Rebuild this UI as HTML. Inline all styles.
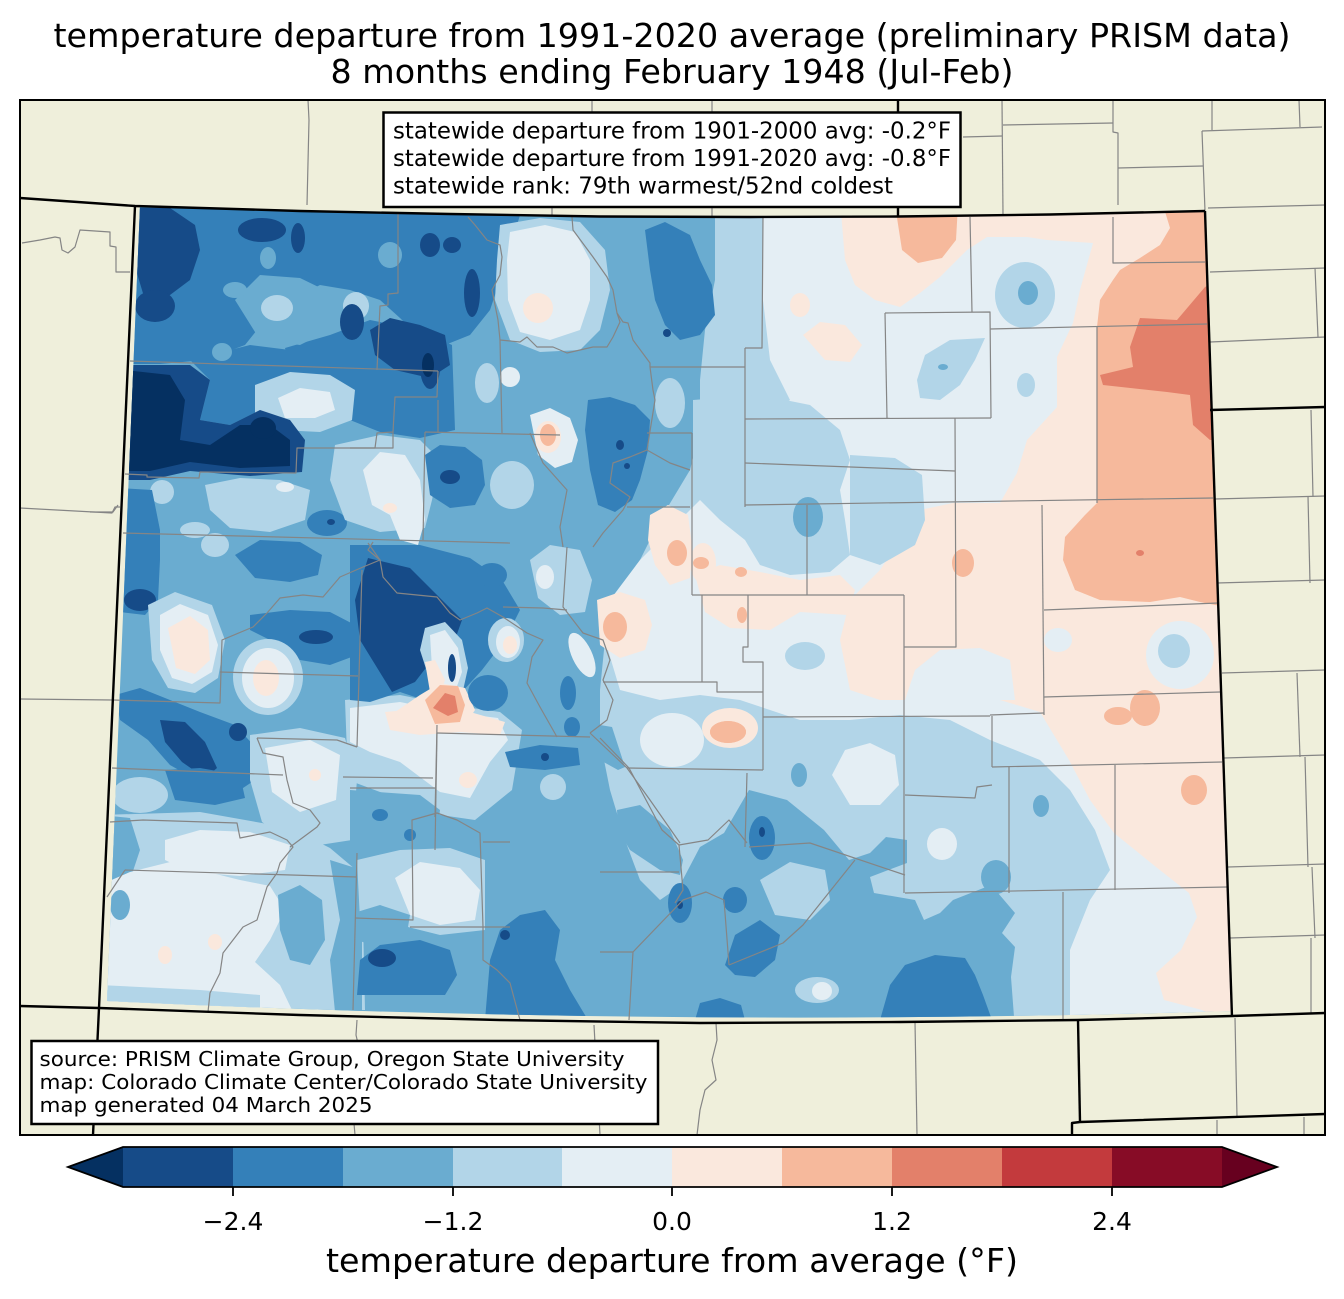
<!DOCTYPE html>
<html><head><meta charset="utf-8"><style>
html,body{margin:0;padding:0;background:#fff;}
svg{display:block;}
text{font-family:"DejaVu Sans","Liberation Sans",sans-serif;fill:#000;}
.k0{fill:#053061}.k1{fill:#164b88}.k2{fill:#3480b9}.k3{fill:#6aacd0}.k4{fill:#b2d5e8}.k5{fill:#e4eef4}.k6{fill:#fae8dd}.k7{fill:#f6b99c}.k8{fill:#e3806a}.k9{fill:#c33a3d}.k10{fill:#870c26}.k11{fill:#67001f}
</style></head><body>
<svg width="1344" height="1299" viewBox="0 0 1344 1299" xmlns="http://www.w3.org/2000/svg">
<defs>
<clipPath id="co"><path d="M140,206 Q668,225 1205,212 L1232,1011 Q670,1028 107,1001 Z"/></clipPath>
<clipPath id="fr"><rect x="20" y="100" width="1305" height="1035"/></clipPath>
</defs>
<rect x="0" y="0" width="1344" height="1299" fill="#fff"/>
<rect x="20" y="100" width="1305" height="1035" fill="#efefdb"/>

<g clip-path="url(#co)">
<rect x="90" y="190" width="1160" height="850" class="k3"/>
<!-- east zones -->
<polygon class="k4" points="715,200 1240,200 1240,1030 1015,1030 1011,977 1015,947 1002,933 1015,913 998,893 986,887 953,900 940,913 924,920 915,900 874,893 870,877 907,863 907,840 886,837 870,853 849,860 824,830 787,800 749,790 724,833 700,847 679,887 660,900 640,880 625,840 610,790 600,740 600,690 605,640 620,600 640,560 660,520 690,470 700,430 700,380 705,330 715,280"/>
<polygon class="k5" points="763,200 1240,200 1240,1030 1070,1030 1070,950 1090,900 1110,870 1095,830 1070,790 1040,760 990,740 950,720 900,715 850,720 800,720 770,710 740,700 700,695 660,700 620,690 605,640 610,600 640,560 670,530 700,500 720,470 740,440 760,420 790,400 770,360 763,300"/>
<polygon class="k6" points="840,200 1240,200 1240,1030 1202,1010 1164,1000 1156,973 1181,950 1197,917 1189,893 1156,867 1114,833 1090,800 1069,760 1040,712 1000,700 960,700 920,700 880,700 850,690 840,640 850,600 880,570 900,540 920,510 953,503 1000,503 1017,473 1027,440 1057,407 1057,357 1073,323 1080,290 1093,243 1047,240 1027,237 987,237 967,250 940,277 920,293 900,307 875,300 855,285 845,260"/>
<polygon class="k7" points="895,205 958,205 956,240 942,258 918,263 902,250"/>
<polygon class="k7" points="1163,205 1240,205 1240,610 1200,602 1180,597 1150,602 1100,600 1075,590 1063,560 1065,537 1085,515 1097,503 1097,450 1097,400 1097,327 1100,300 1113,280 1120,270 1140,258 1160,245 1170,228"/>
<polygon class="k8" points="1220,280 1205,287 1177,320 1140,318 1130,347 1133,367 1100,375 1103,385 1167,392 1190,395 1193,425 1210,440 1220,440"/>
<ellipse class="k8" cx="1140" cy="553" rx="4" ry="3"/>
<ellipse class="k7" cx="963" cy="563" rx="11" ry="14"/>
<ellipse class="k6" cx="730" cy="728" rx="28" ry="20"/>
<ellipse class="k7" cx="1145" cy="708" rx="15" ry="18"/>
<ellipse class="k7" cx="1118" cy="716" rx="14" ry="9"/>
<ellipse class="k7" cx="1194" cy="790" rx="13" ry="15"/>
<ellipse class="k7" cx="728" cy="732" rx="18" ry="11"/>
<!-- central pink patches -->
<polygon class="k6" points="650,515 668,505 688,515 692,545 690,578 670,585 655,565 648,540"/>
<polygon class="k6" points="597,600 620,592 645,600 652,625 645,650 620,658 600,645"/>
<polygon class="k6" points="803,335 820,322 845,325 862,345 850,362 825,360"/>
<ellipse class="k6" cx="800" cy="305" rx="10" ry="12"/>
<!-- east holes -->
<polygon class="k4" points="693,400 760,395 810,405 840,430 850,460 840,490 845,520 850,555 830,572 790,575 760,565 745,540 720,520 700,500 693,460"/>
<polygon class="k4" points="850,455 895,458 922,475 925,520 915,545 880,565 850,555"/>
<polygon class="k6" points="695,575 720,565 760,572 800,580 840,575 855,590 848,615 800,612 770,630 730,628 705,612"/>
<ellipse class="k6" cx="703" cy="563" rx="13" ry="20"/>
<ellipse class="k7" cx="677" cy="553" rx="10" ry="13"/>
<ellipse class="k7" cx="701" cy="563" rx="8" ry="6"/>
<ellipse class="k7" cx="741" cy="572" rx="6" ry="5"/>
<ellipse class="k7" cx="742" cy="615" rx="5" ry="8"/>
<ellipse class="k7" cx="615" cy="627" rx="12" ry="15"/>
<ellipse class="k3" cx="808" cy="517" rx="15" ry="20"/>
<ellipse class="k4" cx="1025" cy="295" rx="30" ry="33"/>
<ellipse class="k3" cx="1028" cy="293" rx="10" ry="12"/>
<polygon class="k4" points="917,380 925,355 950,340 985,338 975,360 960,385 940,400 920,398"/>
<ellipse class="k3" cx="943" cy="367" rx="5" ry="3"/>
<ellipse class="k4" cx="1026" cy="385" rx="9" ry="12"/>
<ellipse class="k4" cx="805" cy="656" rx="20" ry="14"/>
<ellipse class="k5" cx="1180" cy="655" rx="34" ry="34"/>
<ellipse class="k4" cx="1174" cy="651" rx="16" ry="17"/>
<ellipse class="k5" cx="1058" cy="640" rx="14" ry="12"/>
<polygon class="k5" points="905,700 915,670 940,650 980,648 1010,660 1015,700"/>
<!-- south east C3/C5 holes -->
<ellipse class="k3" cx="1041" cy="806" rx="8" ry="11"/>
<ellipse class="k3" cx="996" cy="877" rx="15" ry="17"/>
<ellipse class="k3" cx="799" cy="775" rx="8" ry="12"/>
<ellipse class="k5" cx="672" cy="740" rx="32" ry="27"/>
<polygon class="k5" points="832,775 845,750 870,743 895,755 899,785 880,805 850,805"/>
<ellipse class="k5" cx="942" cy="844" rx="15" ry="16"/>
<ellipse class="k7" cx="728" cy="732" rx="18" ry="11"/>
<polygon class="k4" points="760,880 790,862 825,870 830,900 810,920 775,915"/>
<ellipse class="k4" cx="817" cy="990" rx="22" ry="13"/>
<ellipse class="k5" cx="822" cy="991" rx="10" ry="9"/>
<polygon class="k3" points="600,725 612,727 625,767 618,770 600,760"/>
<polygon class="k3" points="617,810 640,805 670,830 683,860 680,875 660,870 630,850 618,830"/>
<!-- south C2 -->
<polygon class="k2" points="880,1020 890,985 905,965 935,955 965,958 975,975 983,995 992,1020"/>
<polygon class="k2" points="725,965 735,935 760,920 780,935 775,960 755,977 735,975"/>
<ellipse class="k2" cx="680" cy="903" rx="12" ry="20"/>
<ellipse class="k1" cx="680" cy="905" rx="3" ry="4"/>
<ellipse class="k2" cx="735" cy="900" rx="12" ry="13"/>
<ellipse class="k2" cx="762" cy="838" rx="13" ry="22"/>
<ellipse class="k1" cx="762" cy="832" rx="3" ry="5"/>
<polygon class="k2" points="695,1020 700,1003 720,998 741,1005 745,1020"/>
<polygon class="k2" points="485,1020 490,960 500,930 520,915 545,910 560,930 555,960 570,990 588,1020"/>
<ellipse class="k1" cx="505" cy="935" rx="5" ry="5"/>
<!-- NW -->
<polygon class="k2" points="125,200 525,200 512,240 500,280 490,310 470,335 445,345 420,338 400,318 380,300 350,290 320,285 290,300 265,320 245,345 205,360 160,364 125,364"/>
<polygon class="k2" points="285,348 330,335 370,320 420,330 452,345 455,430 420,438 380,432 350,420 300,402"/>
<polygon class="k2" points="190,360 250,345 290,350 300,400 290,420 260,410 230,425 200,420 210,380"/>
<polygon class="k3" points="235,300 260,275 300,278 335,295 330,330 300,345 260,340"/>
<ellipse class="k4" cx="277" cy="308" rx="16" ry="13"/>
<ellipse class="k4" cx="356" cy="306" rx="13" ry="14"/>
<ellipse class="k3" cx="390" cy="255" rx="12" ry="13"/>
<ellipse class="k3" cx="268" cy="258" rx="8" ry="11"/>
<ellipse class="k3" cx="222" cy="352" rx="10" ry="9"/>
<ellipse class="k3" cx="163" cy="230" rx="8" ry="4"/>
<ellipse class="k3" cx="235" cy="290" rx="12" ry="8"/>
<polygon class="k1" points="138,208 170,208 195,225 200,250 190,280 170,295 145,300 136,270"/>
<ellipse class="k1" cx="262" cy="230" rx="24" ry="12"/>
<ellipse class="k1" cx="298" cy="238" rx="7" ry="15"/>
<ellipse class="k1" cx="155" cy="306" rx="20" ry="16"/>
<polygon class="k1" points="370,330 390,318 420,325 445,335 450,365 430,378 395,370 375,355"/>
<ellipse class="k1" cx="352" cy="322" rx="12" ry="18"/>
<ellipse class="k1" cx="430" cy="245" rx="10" ry="12"/>
<ellipse class="k1" cx="452" cy="245" rx="9" ry="8"/>
<ellipse class="k1" cx="472" cy="293" rx="8" ry="24"/>
<ellipse class="k1" cx="430" cy="367" rx="10" ry="22"/>
<ellipse class="k0" cx="428" cy="365" rx="6" ry="12"/>
<polygon class="k4" points="255,385 290,372 330,375 355,390 352,420 320,432 280,430 255,415"/>
<polygon class="k5" points="278,398 300,388 330,392 335,410 315,418 285,418"/>
<polygon class="k1" points="125,365 190,365 210,380 200,420 230,425 260,410 290,420 305,440 302,472 250,476 190,471 150,480 125,480"/>
<polygon class="k0" points="125,370 170,375 185,400 180,440 210,445 240,425 270,425 290,440 290,466 240,468 190,462 150,471 125,471"/>
<ellipse class="k0" cx="263" cy="428" rx="13" ry="11"/>
<!-- north middle -->
<polygon class="k4" points="500,225 540,218 580,222 605,250 610,290 600,330 580,350 540,352 510,340 495,300 497,260"/>
<polygon class="k5" points="510,232 545,225 575,232 590,260 590,300 580,330 550,340 520,332 508,300 507,260"/>
<ellipse class="k6" cx="538" cy="308" rx="15" ry="15"/>
<polygon class="k2" points="645,230 665,222 690,235 700,260 712,285 715,315 700,335 680,340 665,325 655,300 650,270"/>
<ellipse class="k1" cx="667" cy="333" rx="4" ry="4"/>
<ellipse class="k4" cx="670" cy="403" rx="15" ry="25"/>
<!-- row y 480-540 west -->
<ellipse class="k4" cx="162" cy="492" rx="12" ry="12"/>
<polygon class="k4" points="205,485 240,478 280,480 310,490 305,520 270,532 230,528 210,510"/>
<ellipse class="k5" cx="285" cy="487" rx="9" ry="5"/>
<ellipse class="k4" cx="195" cy="530" rx="15" ry="8"/>
<ellipse class="k4" cx="215" cy="545" rx="14" ry="12"/>
<ellipse class="k2" cx="327" cy="523" rx="20" ry="13"/>
<ellipse class="k1" cx="331" cy="522" rx="4" ry="3"/>
<polygon class="k2" points="120,488 152,490 160,530 160,560 158,600 145,615 120,612"/>
<ellipse class="k1" cx="140" cy="600" rx="16" ry="11"/>
<!-- central north -->
<polygon class="k4" points="335,445 380,435 420,440 440,460 432,500 425,528 380,532 345,520 330,480"/>
<polygon class="k5" points="363,470 380,452 405,455 420,480 425,520 418,545 400,540 390,515 372,505"/>
<ellipse class="k6" cx="390" cy="508" rx="7" ry="5"/>
<polygon class="k2" points="425,455 440,445 465,447 482,460 485,485 475,505 450,508 430,495"/>
<ellipse class="k1" cx="450" cy="477" rx="10" ry="7"/>
<ellipse class="k4" cx="487" cy="383" rx="12" ry="20"/>
<ellipse class="k5" cx="510" cy="377" rx="10" ry="10"/>
<polygon class="k2" points="588,400 610,397 635,405 650,420 648,450 640,480 632,500 615,512 598,505 590,470 585,430"/>
<ellipse class="k1" cx="620" cy="445" rx="4" ry="5"/>
<ellipse class="k1" cx="627" cy="466" rx="3" ry="3"/>
<polygon class="k5" points="530,415 550,408 570,418 578,440 572,462 555,468 538,455"/>
<ellipse class="k6" cx="548" cy="437" rx="13" ry="16"/>
<ellipse class="k7" cx="548" cy="435" rx="8" ry="11"/>
<ellipse class="k4" cx="512" cy="485" rx="22" ry="24"/>
<!-- west central -->
<polygon class="k2" points="235,555 260,540 300,542 322,555 318,575 290,582 255,578"/>
<polygon class="k2" points="250,615 290,610 330,612 355,625 357,655 330,665 300,660 270,640 250,630"/>
<ellipse class="k1" cx="316" cy="637" rx="17" ry="7"/>
<polygon class="k4" points="148,605 175,592 212,605 225,640 218,678 195,693 168,688 152,660"/>
<polygon class="k5" points="160,615 180,604 208,615 218,645 212,672 192,684 172,678 160,650"/>
<polygon class="k6" points="168,628 190,616 208,630 210,660 195,674 176,668"/>
<ellipse class="k4" cx="268" cy="677" rx="35" ry="38"/>
<ellipse class="k5" cx="268" cy="678" rx="26" ry="30"/>
<ellipse class="k6" cx="266" cy="678" rx="13" ry="18"/>
<polygon class="k2" points="115,695 140,688 170,700 200,712 235,725 258,750 255,780 240,790 200,782 170,765 148,740 120,720"/>
<polygon class="k1" points="160,720 185,722 205,742 217,768 205,778 182,762 165,742"/>
<ellipse class="k1" cx="238" cy="732" rx="9" ry="9"/>
<polygon class="k2" points="165,770 200,768 240,775 245,798 215,805 175,800"/>
<ellipse class="k4" cx="140" cy="795" rx="28" ry="18"/>
<polygon class="k4" points="250,735 300,728 345,738 357,780 352,840 300,848 262,822 250,780"/>
<polygon class="k5" points="265,748 310,740 340,755 336,800 300,812 272,792"/>
<ellipse class="k6" cx="315" cy="775" rx="6" ry="6"/>
<!-- SW -->
<polygon class="k4" points="100,815 200,812 290,828 330,848 362,875 365,1010 100,1010"/>
<polygon class="k3" points="100,815 130,818 140,850 130,880 100,885"/>
<polygon class="k5" points="165,840 200,830 250,832 290,845 285,870 240,876 190,872 165,860"/>
<polygon class="k5" points="100,885 130,872 170,862 200,870 240,880 270,886 285,910 270,940 255,962 280,985 292,1010 100,1010"/>
<polygon class="k4" points="100,985 200,990 260,995 260,1012 100,1012"/>
<polygon class="k3" points="278,895 300,885 322,900 325,940 310,965 290,960 280,930"/>
<polygon class="k3" points="330,860 362,870 362,1012 335,1012 330,960 340,920"/>
<ellipse class="k6" cx="165" cy="955" rx="7" ry="9"/>
<ellipse class="k6" cx="215" cy="942" rx="7" ry="8"/>
<ellipse class="k3" cx="120" cy="905" rx="10" ry="15"/>
<!-- central south light -->
<polygon class="k4" points="345,700 400,695 450,705 500,712 522,730 512,790 475,820 420,812 380,792 348,780"/>
<polygon class="k5" points="350,708 400,702 450,712 498,718 508,740 490,762 470,798 440,792 400,762 370,752 350,742"/>
<polygon class="k6" points="385,712 430,708 470,712 505,722 500,735 460,732 420,735 390,730"/>
<ellipse class="k6" cx="468" cy="780" rx="9" ry="8"/>
<polygon class="k3" points="350,790 420,795 440,810 435,850 400,855 350,855"/>
<ellipse class="k2" cx="380" cy="815" rx="8" ry="6"/>
<ellipse class="k2" cx="410" cy="835" rx="6" ry="6"/>
<polygon class="k4" points="357,860 400,850 450,848 485,860 485,930 440,935 400,925 360,920"/>
<polygon class="k5" points="395,878 420,862 460,868 480,890 475,920 440,925 410,915"/>
<polygon class="k3" points="357,912 380,905 410,915 405,945 380,948 357,940"/>
<polygon class="k2" points="357,995 360,960 380,945 420,940 450,950 457,975 445,995"/>
<ellipse class="k1" cx="382" cy="958" rx="14" ry="9"/>
<polygon class="k2" points="505,752 540,745 578,748 580,765 545,770 510,767"/>
<ellipse class="k1" cx="545" cy="757" rx="4" ry="4"/>
<ellipse class="k4" cx="553" cy="787" rx="13" ry="13"/>
<!-- central dark -->
<polygon class="k2" points="350,545 420,545 470,558 502,580 520,610 505,640 482,670 462,692 430,702 400,692 370,702 350,700"/>
<polygon class="k1" points="368,558 410,568 440,598 462,620 452,648 432,660 415,682 392,692 376,666 360,640 355,600"/>
<polygon class="k4" points="425,628 445,622 462,640 468,668 462,695 440,700 428,675 420,650"/>
<polygon class="k5" points="430,635 445,630 458,648 462,672 455,692 442,694 432,668"/>
<polygon class="k6" points="425,662 435,660 445,680 440,695 430,692"/>
<ellipse class="k1" cx="452" cy="668" rx="4" ry="14"/>
<polygon class="k6" points="395,712 420,695 440,683 465,688 475,710 462,730 430,733 400,728"/>
<polygon class="k7" points="425,700 440,685 458,686 465,705 460,722 435,724"/>
<polygon class="k8" points="433,708 445,693 455,696 458,712 448,716"/>
<ellipse class="k4" cx="506" cy="640" rx="18" ry="22"/>
<ellipse class="k5" cx="508" cy="642" rx="12" ry="16"/>
<ellipse class="k6" cx="510" cy="645" rx="7" ry="9"/>
<ellipse class="k2" cx="488" cy="693" rx="20" ry="18"/>
<ellipse class="k2" cx="492" cy="575" rx="15" ry="12"/>
<polygon class="k4" points="530,560 550,545 580,550 592,580 585,612 560,615 538,598"/>
<ellipse class="k5" cx="545" cy="577" rx="9" ry="12"/>
<ellipse class="k5" cx="582" cy="655" rx="10" ry="24" transform="rotate(-25 582 655)"/>
<ellipse class="k2" cx="568" cy="693" rx="8" ry="17"/>
<ellipse class="k2" cx="572" cy="727" rx="8" ry="10"/>
</g>

<!-- county lines -->
<g clip-path="url(#fr)" fill="none" stroke="#858585" stroke-width="1.2" stroke-linejoin="round">
<polyline points="308,100 309,120 307,205"/>
<polyline points="592,100 592,112"/>
<polyline points="552,207 552,215"/>
<polyline points="712,100 712,216"/>
<polyline points="1002,100 1003,215"/>
<polyline points="1003,125 1113,123"/>
<polyline points="963,137 1002,136"/>
<polyline points="1113,100 1113,132 1118,133 1118,205"/>
<polyline points="1118,168 1203,166"/>
<polyline points="1212,100 1212,130"/>
<polyline points="1202,131 1322,127"/>
<polyline points="1202,131 1205,211"/>
<polyline points="1299,100 1300,127"/>
<polyline points="1208,208 1325,205"/>
<polyline points="1210,272 1325,268"/>
<polyline points="1315,268 1318,337"/>
<polyline points="1210,342 1325,337"/>
<polyline points="1311,410 1313,497"/>
<polyline points="1215,499 1325,496"/>
<polyline points="1217,583 1325,580"/>
<polyline points="1308,496 1310,583"/>
<polyline points="1222,673 1325,670"/>
<polyline points="1297,673 1300,757"/>
<polyline points="1224,758 1325,755"/>
<polyline points="1305,757 1308,867"/>
<polyline points="1228,867 1325,864"/>
<polyline points="1312,867 1315,938"/>
<polyline points="1230,938 1325,935"/>
<polyline points="1311,938 1311,1013"/>
<polyline points="1235,1018 1237,1117"/>
<polyline points="1217,1120 1217,1135"/>
<polyline points="1304,1117 1304,1135"/>
<polyline points="22,243 40,240 55,237 60,238 62,250 68,253 75,247 80,230 110,232 110,246 116,247 116,272 130,272"/>
<polyline points="20,508 112,513 115,507 120,507"/>
<polyline points="20,699 113,700"/>
<polyline points="357,1020 356,1035 359,1048 354,1062 357,1080 352,1100 355,1135"/>
<polyline points="594,1025 600,1135"/>
<polyline points="716,1023 717,1040 712,1060 716,1080 705,1090 700,1110 697,1135"/>
<polyline points="915,1022 917,1135"/>
<!-- CO counties -->
<polyline points="398,213 398,293 388,294 388,305 380,306 377,370"/>
<polyline points="130,361 438,371"/>
<polyline points="438,371 437,397 395,397 393,432 377,433 375,448 297,448 296,473 200,472 199,478 147,477 147,475 125,474"/>
<polyline points="393,432 393,448 350,448"/>
<polyline points="425,432 423,540"/>
<polyline points="123,533 510,543"/>
<polyline points="468,217 475,225 487,240 500,245 502,257 500,275 492,290 498,320 500,340"/>
<polyline points="500,340 520,342 527,337 537,347 553,347 567,353 593,347 607,347 613,337 620,322 617,313"/>
<polyline points="500,340 502,433"/>
<polyline points="572,217 573,230 593,257 607,277 613,290 617,313 623,322 628,323 633,340 650,363 650,367"/>
<polyline points="650,367 745,367"/>
<polyline points="745,348 762,348 763,217"/>
<polyline points="745,348 745,507"/>
<polyline points="650,367 653,390 655,400 647,450 630,457 613,463 610,483 630,497 623,510 603,533 593,547"/>
<polyline points="885,313 990,312 991,418"/>
<polyline points="885,313 887,418"/>
<polyline points="745,419 991,418"/>
<polyline points="970,217 972,312"/>
<polyline points="1113,217 1113,263 1205,262"/>
<polyline points="990,329 1207,324"/>
<polyline points="1097,327 1097,503"/>
<polyline points="745,463 955,471"/>
<polyline points="955,418 956,647 904,647"/>
<polyline points="745,505 1213,498"/>
<polyline points="1042,505 1044,715"/>
<polyline points="1044,610 1218,603"/>
<polyline points="1044,697 1220,692"/>
<polyline points="990,715 1044,713"/>
<polyline points="992,716 992,767"/>
<polyline points="992,767 1222,762"/>
<polyline points="692,595 904,595"/>
<polyline points="904,595 904,893"/>
<polyline points="1009,767 1009,893"/>
<polyline points="1115,765 1115,890"/>
<polyline points="905,893 1227,887"/>
<polyline points="1063,892 1063,1020"/>
<polyline points="905,795 975,798 977,787 992,785"/>
<polyline points="692,433 692,595"/>
<polyline points="647,433 692,433"/>
<polyline points="647,450 670,463 690,470"/>
<polyline points="627,507 690,507"/>
<polyline points="807,505 807,595"/>
<polyline points="702,595 702,682"/>
<polyline points="603,682 717,682 717,692 763,692"/>
<polyline points="763,692 763,770"/>
<polyline points="627,768 763,770"/>
<polyline points="763,717 990,716"/>
<polyline points="748,595 748,647 743,647 743,662 763,662 763,692"/>
<polyline points="749,847 810,843 905,875"/>
<polyline points="855,860 803,925 783,943 729,965"/>
<polyline points="729,965 724,900 706,892 683,900 633,952 629,1020"/>
<polyline points="600,738 629,768 662,830 679,845 683,890 675,903"/>
<polyline points="679,845 708,840 729,820 747,843"/>
<polyline points="600,872 679,872"/>
<polyline points="600,952 633,952"/>
<polyline points="747,773 745,847"/>
<polyline points="438,400 438,432"/>
<polyline points="425,432 560,435"/>
<polyline points="530,433 543,463 567,490 560,527 563,547"/>
<polyline points="368,543 380,560 383,577 397,593 437,597 450,613 460,620 477,613 487,608 503,617 527,633 543,640 532,657 527,683 540,707 557,737"/>
<polyline points="503,607 543,608 567,610"/>
<polyline points="567,547 563,607 583,633 603,640 610,660 603,680 613,700 607,720 590,733"/>
<polyline points="437,733 590,737"/>
<polyline points="437,733 435,850"/>
<polyline points="590,733 627,768 650,800 680,843"/>
<polyline points="350,788 435,788"/>
<polyline points="90,512 113,512 118,505"/>
<polyline points="373,542 368,550 380,560 363,567 340,577 323,597 303,595 280,598 267,613 253,627 222,640 220,703 113,700"/>
<polyline points="220,672 358,676"/>
<polyline points="362,570 357,747"/>
<polyline points="257,738 337,740 357,747"/>
<polyline points="257,738 263,753 283,757 287,780 293,803 310,810 320,823 317,827 290,847"/>
<polyline points="112,768 283,775"/>
<polyline points="343,777 433,778"/>
<polyline points="437,725 435,817"/>
<polyline points="110,822 143,820 237,823 240,838 270,832 287,840 293,847 280,863 277,873"/>
<polyline points="125,870 357,877"/>
<polyline points="125,870 107,897"/>
<polyline points="277,873 267,887 257,920 243,927 223,953 220,973 210,993 208,1012"/>
<polyline points="357,853 353,1010"/>
<polyline points="355,918 413,920 412,820 437,813 457,820 480,833 483,927 410,927"/>
<polyline points="483,842 510,842"/>
<polyline points="483,927 510,927"/>
<polyline points="483,927 483,960 497,970 510,983 520,1020"/>
</g>

<!-- state lines -->
<g clip-path="url(#fr)" fill="none" stroke="#000" stroke-width="2.4" stroke-linejoin="round">
<polyline points="20,198 135,206 300,211 450,214 600,216.5 750,217 898,216.5 1050,214.5 1205,211"/>
<polyline points="1205,211 1232,1017"/>
<polyline points="135,206 99,1008 93,1135"/>
<polyline points="20,1006 99,1008 300,1015 500,1020 700,1023 900,1022 1078,1020 1232,1016 1325,1013"/>
<polyline points="898,100 898,216"/>
<polyline points="1210,410 1325,407"/>
<polyline points="1078,1020 1080,1122"/>
<polyline points="1072,1135 1072,1123 1080,1122 1325,1114"/>
</g>
<rect x="20" y="100" width="1305" height="1035" fill="none" stroke="#000" stroke-width="2"/>

<!-- info box -->
<rect x="383.5" y="112.5" width="577" height="94.5" fill="#fff" stroke="#000" stroke-width="2.5"/>
<text x="393" y="138.5" font-size="22.9" textLength="558" lengthAdjust="spacingAndGlyphs">statewide departure from 1901-2000 avg: -0.2°F</text>
<text x="393" y="166" font-size="22.9" textLength="558" lengthAdjust="spacingAndGlyphs">statewide departure from 1991-2020 avg: -0.8°F</text>
<text x="393" y="193.5" font-size="22.9" textLength="500" lengthAdjust="spacingAndGlyphs">statewide rank: 79th warmest/52nd coldest</text>

<rect x="31.5" y="1041" width="626.5" height="83" fill="#fff" stroke="#000" stroke-width="2.5"/>
<text x="39.5" y="1066" font-size="20.8" textLength="585" lengthAdjust="spacingAndGlyphs">source: PRISM Climate Group, Oregon State University</text>
<text x="39.5" y="1089" font-size="20.8" textLength="608" lengthAdjust="spacingAndGlyphs">map: Colorado Climate Center/Colorado State University</text>
<text x="39.5" y="1112" font-size="20.8" textLength="333" lengthAdjust="spacingAndGlyphs">map generated 04 March 2025</text>

<!-- title -->
<text x="672" y="47" font-size="33.3" text-anchor="middle" textLength="1237" lengthAdjust="spacingAndGlyphs">temperature departure from 1991-2020 average (preliminary PRISM data)</text>
<text x="672" y="83" font-size="33.3" text-anchor="middle" textLength="683" lengthAdjust="spacingAndGlyphs">8 months ending February 1948 (Jul-Feb)</text>

<!-- colorbar -->
<polygon class="k0" points="68,1167 123,1147 123,1187"/>
<rect class="k1" x="123" y="1147" width="110" height="40"/>
<rect class="k2" x="233" y="1147" width="110" height="40"/>
<rect class="k3" x="343" y="1147" width="110" height="40"/>
<rect class="k4" x="453" y="1147" width="109.5" height="40"/>
<rect class="k5" x="562" y="1147" width="110.5" height="40"/>
<rect class="k6" x="672" y="1147" width="110" height="40"/>
<rect class="k7" x="782" y="1147" width="110" height="40"/>
<rect class="k8" x="892" y="1147" width="110" height="40"/>
<rect class="k9" x="1002" y="1147" width="110" height="40"/>
<rect class="k10" x="1112" y="1147" width="110" height="40"/>
<polygon class="k11" points="1222,1147 1277,1167 1222,1187"/>
<polygon points="68,1167 123,1147 1222,1147 1277,1167 1222,1187 123,1187" fill="none" stroke="#000" stroke-width="1.8"/>
<g stroke="#000" stroke-width="1.8">
<line x1="233" y1="1187" x2="233" y2="1196"/>
<line x1="453" y1="1187" x2="453" y2="1196"/>
<line x1="672" y1="1187" x2="672" y2="1196"/>
<line x1="892" y1="1187" x2="892" y2="1196"/>
<line x1="1112" y1="1187" x2="1112" y2="1196"/>
</g>
<g font-size="25" text-anchor="middle">
<text x="233" y="1230">−2.4</text>
<text x="453" y="1230">−1.2</text>
<text x="672" y="1230">0.0</text>
<text x="892" y="1230">1.2</text>
<text x="1112" y="1230">2.4</text>
</g>
<text x="672" y="1272" font-size="33.3" text-anchor="middle" textLength="692" lengthAdjust="spacingAndGlyphs">temperature departure from average (°F)</text>
</svg>
</body></html>
